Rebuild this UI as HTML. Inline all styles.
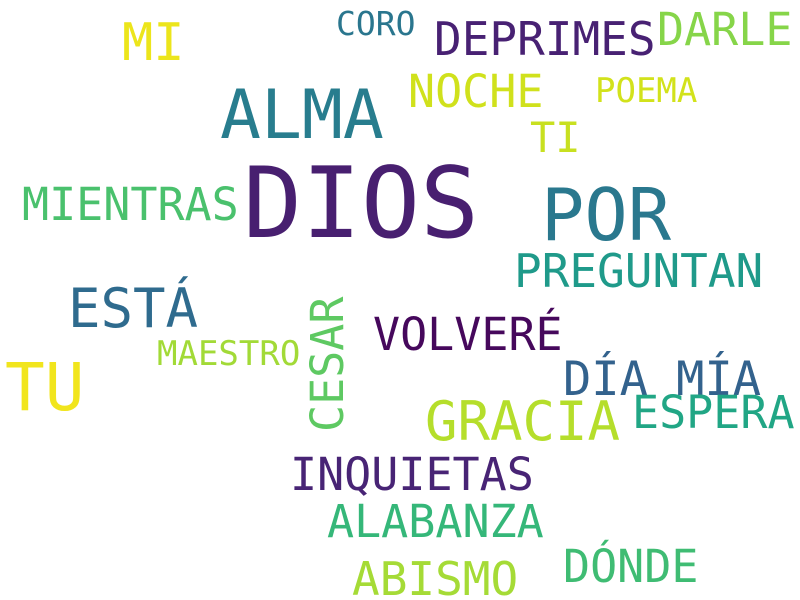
<!DOCTYPE html>
<html><head><meta charset="utf-8"><style>
html,body{margin:0;padding:0;background:#fff;}
svg{display:block;}
text{font-family:"DejaVu Sans Mono","Liberation Mono",monospace;}
</style></head><body>
<svg id="cloud" width="800" height="600" viewBox="0 0 800 600">
<rect width="800" height="600" fill="#ffffff"/>
</svg>
<script>
const words = ["DIOS","ALMA","POR","TU","ESTÁ","GRACIA","MI","DEPRIMES","DARLE","NOCHE","TI","CORO","POEMA","MIENTRAS","PREGUNTAN","VOLVERÉ","MAESTRO","CESAR","DÍA MÍA","ESPERA","INQUIETAS","ALABANZA","DÓNDE","ABISMO"];
const weights = [98,68,72,66,54,54,52,46,45,45,42,33,34,45,46,45,34,45,47,45,45,45,45,46];
const colors = ["#481f70","#287d8e","#2a788e","#f1e51d","#2f6b8e","#b5de2b","#ece51b","#482173","#86d549","#d0e11c","#c8e020","#2a768e","#d2e21b","#4ac16d","#1f9a8a","#46085c","#a2da37","#5ec962","#33628d","#21a685","#482475","#35b779","#3fbc73","#a5db36"];
const layoutX = [243,220,541,5,68,425,122,434,657,408,530,336,595,22,514,373,157,343,563,632,290,327,563,352];
const layoutY = [237,138,240,410,327,440,60,55,45,107,152,35,102,220,287,350,365,432,395,428,490,537,582,595];
const vertical = [0,0,0,0,0,0,0,0,0,0,0,0,0,0,0,0,0,1,0,0,0,0,0,0];
const svg = document.getElementById('cloud');
const NS = 'http://www.w3.org/2000/svg';
for (let i = 0; i < words.length; i++) {
  const t = document.createElementNS(NS, 'text');
  t.setAttribute('x', layoutX[i]);
  t.setAttribute('y', layoutY[i]);
  t.setAttribute('font-size', weights[i]);
  t.setAttribute('fill', colors[i]);
  if (vertical[i]) t.setAttribute('transform', 'rotate(-90 ' + layoutX[i] + ' ' + layoutY[i] + ')');
  t.textContent = words[i];
  
  
  svg.appendChild(t);
}
</script>
</body></html>
